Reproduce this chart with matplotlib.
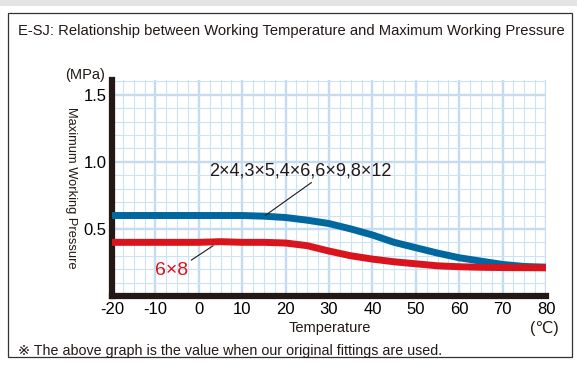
import matplotlib.pyplot as plt
from matplotlib.patches import Rectangle
import numpy as np

# Datos
temp = [-20, -10, 0, 5, 10, 15, 20, 25, 30, 35, 40, 45, 50, 55, 60, 65, 70, 75, 80]
p_big = [0.60, 0.60, 0.60, 0.60, 0.60, 0.595, 0.585, 0.565, 0.54, 0.50, 0.455, 0.40, 0.36, 0.32, 0.285, 0.26, 0.235, 0.22, 0.215]
p_small = [0.40, 0.40, 0.40, 0.405, 0.40, 0.40, 0.395, 0.375, 0.335, 0.30, 0.275, 0.255, 0.24, 0.225, 0.218, 0.214, 0.212, 0.211, 0.21]
label_big = '2×4,3×5,4×6,6×9,8×12'
label_small = '6×8'
xticks = [-20, -10, 0, 10, 20, 30, 40, 50, 60, 70, 80]
yticks = [0.5, 1.0, 1.5]

plt.rcParams['font.family'] = ['Liberation Sans', 'DejaVu Sans', 'Noto Sans CJK JP']

fig = plt.figure(figsize=(5.77, 3.65), dpi=100)

# marco exterior y sombra superior
fig.patches.append(Rectangle((0, 1 - 6 / 365), 1, 6 / 365, transform=fig.transFigure,
                             facecolor='#e4e4e4', edgecolor='none', zorder=0))
fig.patches.append(Rectangle((8 / 577, 1 - 357 / 365), 564 / 577, 344 / 365, transform=fig.transFigure,
                             facecolor='none', edgecolor='#333333', linewidth=0.9))

ax = fig.add_axes([112 / 577, 1 - 296 / 365, 434 / 577, 216 / 365])

ax.set_xlim(-20, 80)
ax.set_ylim(0, 1.61)

ax.set_xticks(np.arange(-20, 80.1, 2.5), minor=True)
ax.set_yticks(np.arange(0, 1.61, 0.1), minor=True)
ax.set_xticks(xticks)
ax.set_yticks(yticks)
ax.set_xticklabels([str(t) for t in xticks], fontsize=12)
ax.set_yticklabels([f'{t:.1f}' for t in yticks], fontsize=12)
ax.tick_params(which='both', length=0, pad=4)

ax.grid(which='minor', color='#cce2f5', linewidth=0.8)
ax.grid(which='major', color='#c3dcf2', linewidth=1.7)
ax.axvline(80, color='#c3dcf2', linewidth=2.0, zorder=1)
ax.set_axisbelow(True)

for s in ['top', 'right']:
    ax.spines[s].set_visible(False)
ax.spines['left'].set_linewidth(4.5)
ax.spines['bottom'].set_linewidth(4.5)
ax.spines['left'].set_color('#231815')
ax.spines['bottom'].set_color('#231815')

ax.plot(temp, p_big, color='#00679f', linewidth=5, solid_capstyle='butt', zorder=3)
ax.plot(temp, p_small, color='#d9141c', linewidth=5, solid_capstyle='butt', zorder=3)

ax.annotate(label_big, xy=(15.3, 0.6), xytext=(23.5, 0.93), fontsize=13, color='#231815',
            ha='center', va='center',
            arrowprops=dict(arrowstyle='-', color='#231815', linewidth=0.8,
                            shrinkA=0, shrinkB=0, relpos=(0.58, 0)))
ax.annotate(label_small, xy=(3.3, 0.375), xytext=(-6.2, 0.19), fontsize=14, color='#d9141c',
            ha='center', va='center',
            arrowprops=dict(arrowstyle='-', color='#231815', linewidth=0.8,
                            shrinkA=0, shrinkB=0, relpos=(1.0, 1)))

fig.text(18 / 577, 1 - 31 / 365, 'E-SJ: Relationship between Working Temperature and Maximum Working Pressure',
         fontsize=10.6, ha='left', va='center', color='#231815')
fig.text(85 / 577, 1 - 75 / 365, '(MPa)', fontsize=10.5, ha='center', va='center', color='#231815')
fig.text(71 / 577, 1 - 188 / 365, 'Maximum Working Pressure', rotation=-90, fontsize=9.3,
         ha='center', va='center', color='#231815')
fig.text(330 / 577, 1 - 328 / 365, 'Temperature', fontsize=10.5, ha='center', va='center', color='#231815')
fig.text(544 / 577, 1 - 328 / 365, '(℃)', fontsize=11.5, ha='center', va='center', color='#231815')
fig.text(18 / 577, 1 - 351 / 365, '※ The above graph is the value when our original fittings are used.',
         fontsize=10.3, ha='left', va='center', color='#231815')

fig.savefig('out.png', dpi=100)
